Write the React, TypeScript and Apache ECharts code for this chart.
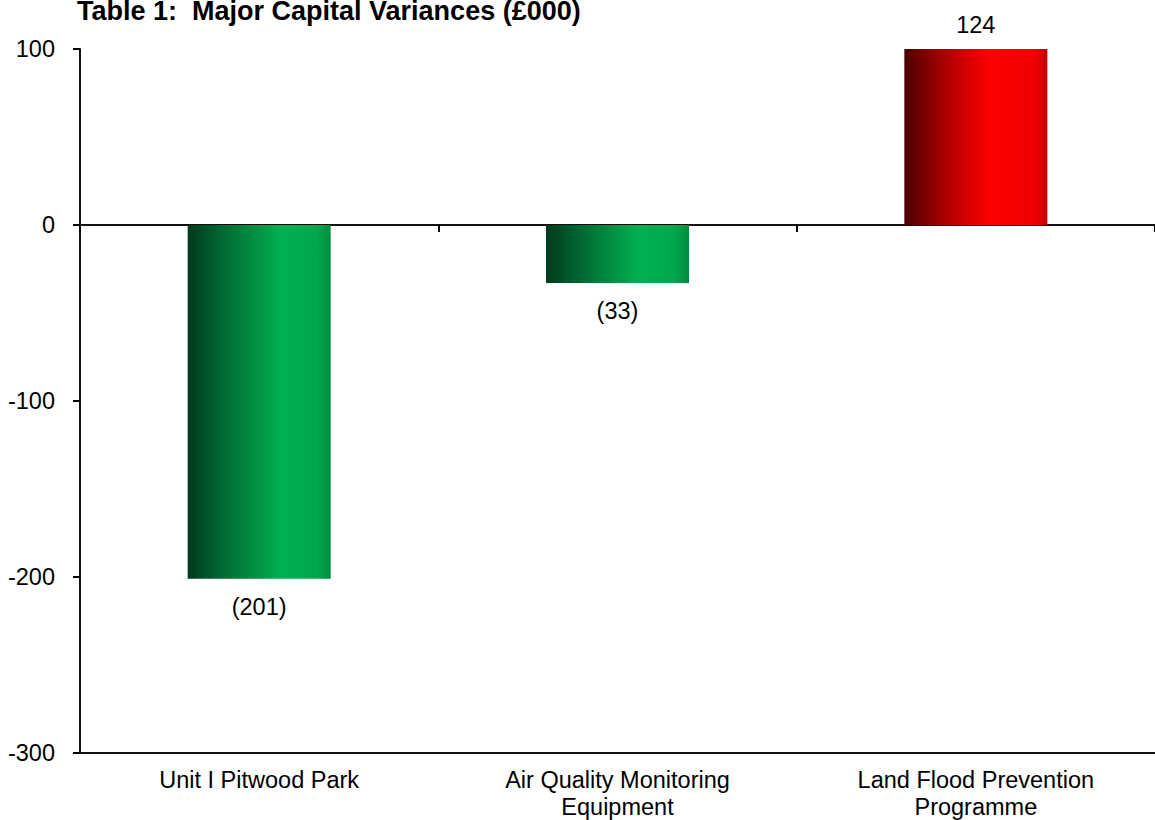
import React, { useEffect, useRef } from 'react';
import * as echarts from 'echarts';

const titleText = 'Table 1:  Major Capital Variances (£000)';
const categories = ['Unit I Pitwood Park', 'Air Quality Monitoring\nEquipment', 'Land Flood Prevention\nProgramme'];
const values = [-201, -33, 124];
const yMin = -300;
const yMax = 100;
const yInterval = 100;

const FONT = "'Liberation Sans', Arial, sans-serif";
const FS = 23.5;

const greenGrad = () =>
  new echarts.graphic.LinearGradient(0, 0, 1, 0, [
    { offset: 0, color: '#003a1c' },
    { offset: 0.25, color: '#006a33' },
    { offset: 0.65, color: '#00b050' },
    { offset: 0.9, color: '#00a84c' },
    { offset: 1, color: '#008a3e' },
  ]);
const redGrad = () =>
  new echarts.graphic.LinearGradient(0, 0, 1, 0, [
    { offset: 0, color: '#4a0000' },
    { offset: 0.3, color: '#b00000' },
    { offset: 0.6, color: '#ff0000' },
    { offset: 0.9, color: '#f00000' },
    { offset: 1, color: '#c80000' },
  ]);

export default function App() {
  const ref = useRef<HTMLDivElement>(null);
  useEffect(() => {
    document.body.style.margin = '0';
    const chart = echarts.init(ref.current!, null, { renderer: 'svg' });
    chart.setOption({
      animation: false,
      backgroundColor: '#ffffff',
      textStyle: { fontFamily: FONT },
      graphic: [
        {
          type: 'text',
          left: 77,
          top: -3,
          style: {
            text: titleText,
            font: `bold 27px ${FONT}`,
            fill: '#000',
          },
        },
      ],
      grid: { left: 80, top: 49, width: 1080, height: 705, containLabel: false },
      xAxis: [
        {
          type: 'category',
          data: categories,
          position: 'bottom',
          axisLine: { onZero: false, show: true, lineStyle: { color: '#111', width: 2 } },
          axisTick: { show: false },
          axisLabel: { color: '#000', fontSize: FS, fontFamily: FONT, margin: 13, lineHeight: 27, interval: 0 },
        },
        {
          type: 'category',
          data: categories,
          position: 'bottom',
          axisLine: { onZero: true, show: true, lineStyle: { color: '#111', width: 2 } },
          axisTick: { show: true, length: 7, interval: 0, lineStyle: { color: '#000', width: 2 } },
          axisLabel: { show: false },
        },
      ],
      yAxis: {
        type: 'value',
        min: yMin,
        max: yMax,
        interval: yInterval,
        axisLine: { show: true, onZero: false, lineStyle: { color: '#111', width: 2 } },
        axisTick: { show: true, length: 7, lineStyle: { color: '#000', width: 2 } },
        splitLine: { show: false },
        axisLabel: { color: '#000', fontSize: FS, fontFamily: FONT, margin: 25 },
      },
      series: [
        {
          type: 'bar',
          xAxisIndex: 0,
          barWidth: 143,
          clip: true,
          data: values.map((v) => ({
            value: v,
            itemStyle: { color: v < 0 ? greenGrad() : redGrad() },
            label: { position: v < 0 ? 'bottom' : 'top', distance: v < 0 ? 16 : 12 },
          })),
          label: {
            show: true,
            color: '#000',
            fontSize: FS,
            fontFamily: FONT,
            formatter: (p: any) => (p.value < 0 ? `(${Math.abs(p.value)})` : `${p.value}`),
          },
        },
      ],
    });
    return () => chart.dispose();
  }, []);
  return <div ref={ref} style={{ width: 1155, height: 820 }} />;
}
